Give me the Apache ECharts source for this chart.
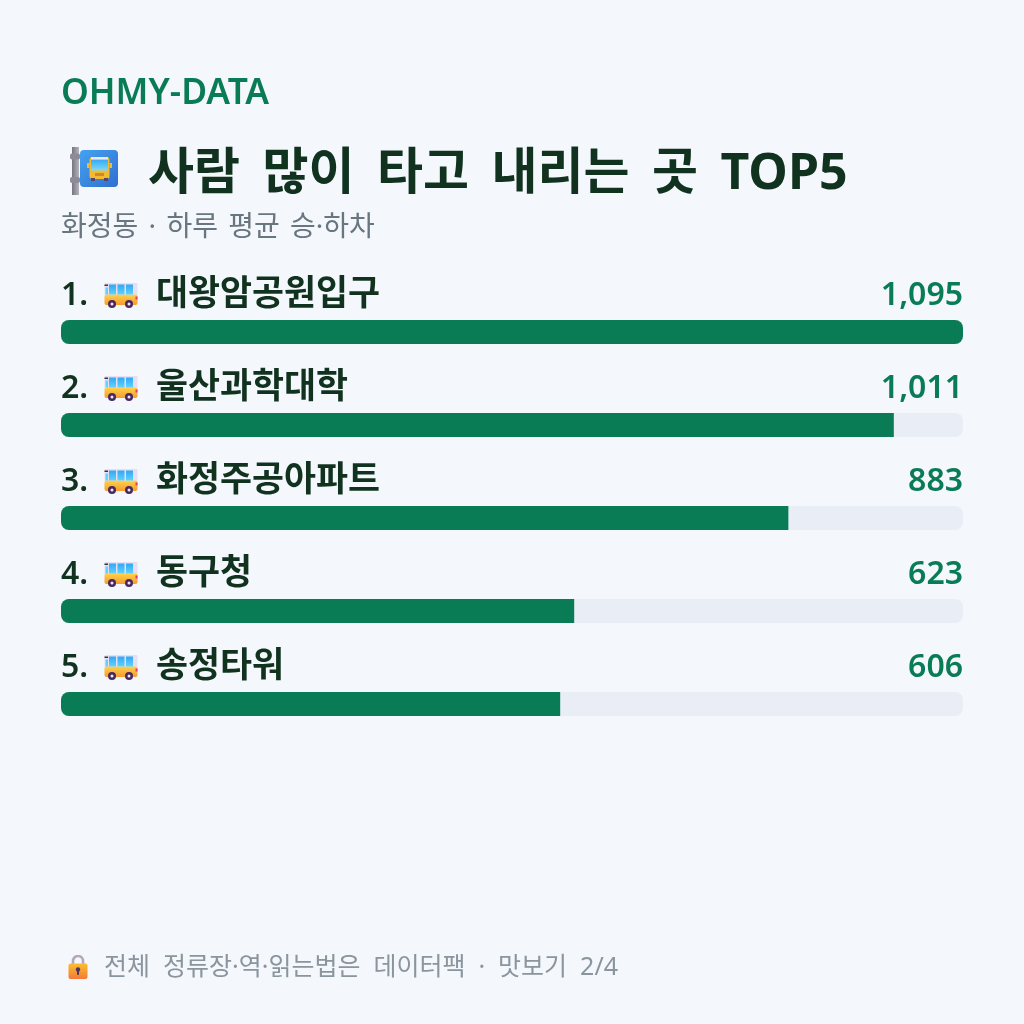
<!DOCTYPE html>
<html>
<head>
<meta charset="utf-8">
<style>html,body{margin:0;padding:0;background:#f4f7fc}#c{width:1024px;height:1024px}</style>
<script src="https://cdn.jsdelivr.net/npm/echarts@6/dist/echarts.min.js"></script>
</head>
<body>
<div id="c"></div>
<script>
const brand = 'OHMY-DATA';
const headline = '사람 많이 타고 내리는 곳 TOP5';
const subtitle = '화정동 · 하루 평균 승·하차';
const footnote = '전체 정류장·역·읽는법은 데이터팩 · 맛보기 2/4';
const stops = ['대왕암공원입구', '울산과학대학', '화정주공아파트', '동구청', '송정타워'];
const riders = [1095, 1011, 883, 623, 606];

const FONT = '"Noto Sans", "Noto Sans CJK KR", sans-serif';
const GREEN = '#0a7c55';
const INK = '#10321f';

const svgUri = s => 'data:image/svg+xml;charset=utf-8,' + encodeURIComponent(s);

// Small pictograms for the stop sign, the bus and the padlock
const busIcon = svgUri(`<svg xmlns="http://www.w3.org/2000/svg" viewBox="0 0 34 26" width="136" height="104">
<defs><linearGradient id="b" x1="0" y1="0" x2="0" y2="1"><stop offset="0" stop-color="#ffd24a"/><stop offset="1" stop-color="#f79a2e"/></linearGradient>
<linearGradient id="w" x1="0" y1="0" x2="0" y2="1"><stop offset="0" stop-color="#2fa8f5"/><stop offset="1" stop-color="#62d2fb"/></linearGradient></defs>
<rect x="0.5" y="0" width="33" height="14" rx="2" fill="#e6dff2"/>
<rect x="0.5" y="12" width="33" height="10.5" rx="2" fill="url(#b)"/>
<rect x="0.5" y="2" width="3.5" height="1.5" fill="#35304f"/><rect x="1.5" y="5" width="2.5" height="7" fill="#62d2fb"/>
<rect x="5" y="2" width="7" height="10" fill="url(#w)"/><rect x="13.5" y="2" width="7" height="10" fill="url(#w)"/><rect x="22" y="2" width="7" height="10" fill="url(#w)"/>
<rect x="31.5" y="14" width="2" height="3" fill="#e8357e"/>
<circle cx="8" cy="21.5" r="4" fill="#46295f"/><circle cx="8" cy="21.5" r="1.5" fill="#f2e6f5"/>
<circle cx="25" cy="21.5" r="4" fill="#46295f"/><circle cx="25" cy="21.5" r="1.5" fill="#f2e6f5"/></svg>`);

const stopIcon = svgUri(`<svg xmlns="http://www.w3.org/2000/svg" viewBox="0 0 48 48" width="192" height="192">
<defs><linearGradient id="p" x1="0" y1="0" x2="1" y2="1"><stop offset="0" stop-color="#45a2f0"/><stop offset="1" stop-color="#2f6fd0"/></linearGradient>
<linearGradient id="g" x1="0" y1="0" x2="1" y2="0"><stop offset="0" stop-color="#77757f"/><stop offset="1" stop-color="#b5b3bd"/></linearGradient>
<linearGradient id="s" x1="0" y1="0" x2="0" y2="1"><stop offset="0" stop-color="#35a8f5"/><stop offset="1" stop-color="#7fdaf8"/></linearGradient></defs>
<rect x="2" y="0" width="7" height="48" fill="url(#g)"/>
<rect x="0" y="6.5" width="10" height="6" rx="2" fill="#8d8b96"/><rect x="0" y="30" width="10" height="6" rx="2" fill="#8d8b96"/>
<rect x="10" y="3" width="38" height="37" rx="4" fill="url(#p)"/>
<rect x="19.5" y="10" width="20" height="22" rx="3" fill="#f3b92f"/><rect x="21" y="12.5" width="17" height="11" fill="url(#s)"/>
<rect x="21" y="10" width="17" height="2.5" fill="#e9e7f2"/>
<rect x="25" y="26" width="9" height="3" fill="#c98a2a"/>
<rect x="17" y="16" width="2.5" height="5" fill="#f3b92f"/><rect x="39.5" y="16" width="2.5" height="5" fill="#f3b92f"/>
<rect x="21" y="31" width="4" height="3" fill="#54436a"/><rect x="34" y="31" width="4" height="3" fill="#54436a"/></svg>`);

const lockIcon = svgUri(`<svg xmlns="http://www.w3.org/2000/svg" viewBox="0 0 20 25" width="80" height="100">
<defs><linearGradient id="l" x1="0" y1="0" x2="0" y2="1"><stop offset="0" stop-color="#fbbf2f"/><stop offset="1" stop-color="#f4783a"/></linearGradient></defs>
<path d="M5 11V6.5a5 5 0 0 1 10 0V11" fill="none" stroke="#b5a8bd" stroke-width="2.6"/>
<rect x="0.5" y="9" width="19" height="15.5" rx="2" fill="url(#l)"/>
<circle cx="10" cy="15" r="2.2" fill="#4a3560"/><rect x="9" y="15" width="2" height="5.5" rx="1" fill="#4a3560"/></svg>`);

// Words become separate rich tokens so the gap between them can be set
const wordTokens = text => text.split(' ').map(w => '{t|' + w + '}').join('{g|}');

const maxRiders = Math.max(...riders);
const chart = echarts.init(document.getElementById('c'));

chart.setOption({
  backgroundColor: '#f4f7fc',
  animation: false,
  title: [
    { text: brand, left: 61, top: 76, padding: 0,
      textStyle: { fontFamily: FONT, fontSize: 35.4, fontWeight: 600, color: GREEN } },
    { text: '{i|}', left: 70, top: 147, padding: 0,
      textStyle: { rich: { i: { width: 48, height: 48, backgroundColor: { image: stopIcon } } } } },
    { text: wordTokens(headline), left: 148, top: 150, padding: 0,
      textStyle: { rich: {
        t: { fontFamily: FONT, fontSize: 50, fontWeight: 700, color: INK },
        g: { width: 22.5 }
      } } },
    { text: wordTokens(subtitle), left: 61, top: 214, padding: 0,
      textStyle: { rich: {
        t: { fontFamily: FONT, fontSize: 28, fontWeight: 400, color: '#68767f' },
        g: { width: 10.3 }
      } } },
    { text: '{i|}', left: 68, top: 954.5, padding: 0,
      textStyle: { rich: { i: { width: 20, height: 25, backgroundColor: { image: lockIcon } } } } },
    { text: wordTokens(footnote), left: 104, top: 955, padding: 0,
      textStyle: { rich: {
        t: { fontFamily: FONT, fontSize: 25, fontWeight: 400, color: '#8a959e' },
        g: { width: 13 }
      } } }
  ],
  grid: { left: 61, right: 61, top: 285.5, height: 465 },
  xAxis: { type: 'value', min: 0, max: maxRiders, show: false },
  yAxis: { type: 'category', data: stops, inverse: true, show: false },
  series: [
    {
      name: 'track', type: 'bar', barWidth: 24, barGap: '-100%', silent: true,
      data: riders.map(() => maxRiders),
      itemStyle: { color: '#e9edf5', borderRadius: 8 },
      label: {
        show: true, position: 'insideRight', distance: 0, offset: [0, -36.5],
        formatter: p => riders[p.dataIndex].toLocaleString('en-US'),
        fontFamily: FONT, fontSize: 32, fontWeight: 600, color: GREEN
      }
    },
    {
      name: 'riders', type: 'bar', barWidth: 24,
      data: riders.map(v => ({
        value: v,
        itemStyle: { borderRadius: v === maxRiders ? 8 : [8, 0, 0, 8] }
      })),
      itemStyle: { color: GREEN },
      label: {
        show: true, position: 'insideLeft', distance: 0, offset: [0, -36.5],
        formatter: p => '{r|' + (p.dataIndex + 1) + '.}{i|}{n|' + stops[p.dataIndex] + '}',
        rich: {
          r: { fontFamily: FONT, fontSize: 32, fontWeight: 600, color: INK, width: 43 },
          i: { width: 34, height: 26, backgroundColor: { image: busIcon } },
          n: { fontFamily: FONT, fontSize: 34.8, fontWeight: 700, color: INK, padding: [0, 0, 0, 18] }
        }
      }
    }
  ]
});
</script>
</body>
</html>
